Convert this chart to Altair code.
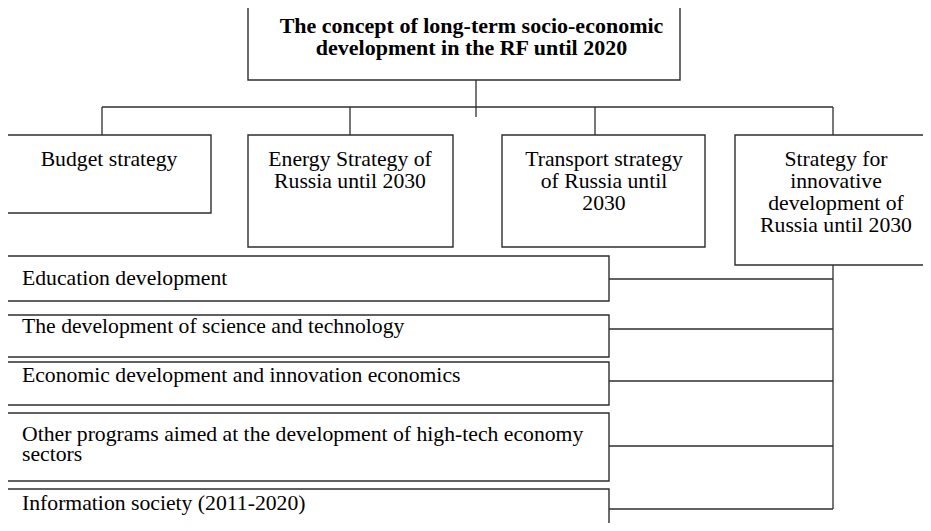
import altair as alt
import pandas as pd

# ---- diagram content -------------------------------------------------------
box_names = ["concept", "budget", "energy", "transport", "innovation",
             "education", "science", "economic", "other", "information"]
box_left = [248, 7, 248, 502, 735, 7, 7, 7, 7, 7]
box_right = [680, 211, 453, 705, 932, 609, 609, 609, 609, 609]
box_top = [5, 135, 135, 135, 135, 256, 315, 362, 413, 489]
box_bottom = [80, 213, 247, 247, 265, 301, 357, 405, 481, 540]

# connector lines (x1, x2, y1, y2)
line_x1 = [476, 102, 102, 350, 595, 833, 833, 609, 609, 609, 609, 609]
line_x2 = [476, 833, 102, 350, 595, 833, 833, 833, 833, 833, 833, 833]
line_y1 = [68, 107, 107, 107, 107, 107, 265, 279, 329, 381, 446, 509]
line_y2 = [117, 107, 135, 135, 135, 135, 509, 279, 329, 381, 446, 509]

# text lines
title_lines = ["The concept of long-term socio-economic",
               "development in the RF until 2020"]
title_x = [471.5, 471.5]
title_y = [33, 55]

head_lines = ["Budget strategy",
              "Energy Strategy of", "Russia until 2030",
              "Transport strategy", "of Russia until", "2030",
              "Strategy for", "innovative", "development of", "Russia until 2030"]
head_x = [109, 350, 350, 604, 604, 604, 836, 836, 836, 836]
head_y = [166, 166, 188, 166, 188, 210, 166, 188, 210, 232]

prog_lines = ["Education development",
              "The development of science and technology",
              "Economic development and innovation economics",
              "Other programs aimed at the development of high-tech economy",
              "sectors",
              "Information society (2011-2020)"]
prog_x = [22, 22, 22, 22, 22, 22]
prog_y = [285, 333, 382, 441, 461, 510]

# ---- tables ------------------------------------------------------------------
boxes = pd.DataFrame({"name": box_names, "x1": box_left, "x2": box_right,
                      "y1": box_top, "y2": box_bottom})
lines = pd.DataFrame({"x1": line_x1, "x2": line_x2, "y1": line_y1, "y2": line_y2})
titles = pd.DataFrame({"t": title_lines, "x": title_x, "y": title_y})
heads = pd.DataFrame({"t": head_lines, "x": head_x, "y": head_y})
progs = pd.DataFrame({"t": prog_lines, "x": prog_x, "y": prog_y})

W, H = 915, 515
xs = alt.Scale(domain=[8, 8 + W], nice=False, zero=False)
ys = alt.Scale(domain=[8 + H, 8], nice=False, zero=False)

LINE = "#2e2e2e"
FONT = "Liberation Serif"

rects = alt.Chart(boxes).mark_rect(fill="white", stroke=LINE, strokeWidth=1.4).encode(
    x=alt.X("x1:Q", scale=xs, axis=None), x2="x2:Q",
    y=alt.Y("y1:Q", scale=ys, axis=None), y2="y2:Q")

rules = alt.Chart(lines).mark_rule(color=LINE, strokeWidth=1.3).encode(
    x=alt.X("x1:Q", scale=xs, axis=None), x2="x2:Q",
    y=alt.Y("y1:Q", scale=ys, axis=None), y2="y2:Q")

t_title = alt.Chart(titles).mark_text(font=FONT, fontSize=22, fontWeight="bold",
                                      align="center", baseline="alphabetic",
                                      color="black").encode(
    x=alt.X("x:Q", scale=xs, axis=None), y=alt.Y("y:Q", scale=ys, axis=None), text="t:N")

t_head = alt.Chart(heads).mark_text(font=FONT, fontSize=21.7, align="center",
                                    baseline="alphabetic", color="black").encode(
    x=alt.X("x:Q", scale=xs, axis=None), y=alt.Y("y:Q", scale=ys, axis=None), text="t:N")

t_prog = alt.Chart(progs).mark_text(font=FONT, fontSize=21.7, align="left",
                                    baseline="alphabetic", color="black").encode(
    x=alt.X("x:Q", scale=xs, axis=None), y=alt.Y("y:Q", scale=ys, axis=None), text="t:N")

chart = alt.layer(rules, rects, t_title, t_head, t_prog).properties(
    width=W, height=H, padding=0, autosize=alt.AutoSizeParams(type="none"),
    background="white"
).configure_view(stroke=None)

chart.save("out.html", embed_options={"renderer": "svg", "actions": False})
